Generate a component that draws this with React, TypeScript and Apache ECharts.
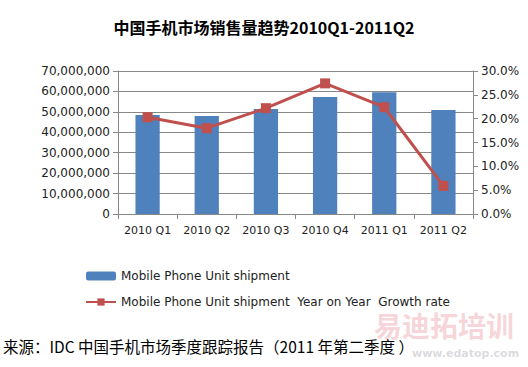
import React, { useEffect, useRef } from "react";
import * as echarts from "echarts";

const categories = ["2010 Q1", "2010 Q2", "2010 Q3", "2010 Q4", "2011 Q1", "2011 Q2"];
const shipments = [48500000, 48000000, 51400000, 57300000, 59600000, 50900000];
const growthRate = [20.3, 18.0, 22.2, 27.4, 22.4, 5.9];
const titleText = "中国手机市场销售量趋势2010Q1-2011Q2";
const sourceText = "来源：IDC 中国手机市场季度跟踪报告（2011 年第二季度 ）";
const barName = "Mobile Phone Unit shipment";
const lineName = "Mobile Phone Unit shipment  Year on Year  Growth rate";

export default function App() {
  const ref = useRef<HTMLDivElement>(null);
  useEffect(() => {
    if (!ref.current) return;
    const chart = echarts.init(ref.current, null, { renderer: "svg" });
    const axisFont = { fontFamily: "DejaVu Sans", fontSize: 12, color: "#222" };
    chart.setOption({
      animation: false,
      backgroundColor: "#fff",
      title: {
        text: titleText,
        left: "center",
        top: 14,
        textStyle: { fontFamily: "Noto Sans CJK SC", fontWeight: "bold", fontSize: 16, color: "#000" },
      },
      legend: {
        orient: "vertical",
        left: 80,
        top: 265,
        itemWidth: 30,
        itemHeight: 9,
        itemGap: 14,
        textStyle: { fontFamily: "DejaVu Sans", fontSize: 12, color: "#222" },
        data: [barName, lineName],
      },
      grid: { left: 118, right: 55, top: 71, bottom: 153 },
      xAxis: {
        type: "category",
        data: categories,
        axisLine: { lineStyle: { color: "#888" } },
        axisTick: { show: true, alignWithLabel: false, length: 5, lineStyle: { color: "#888" } },
        axisLabel: { ...axisFont, fontSize: 11, margin: 11, interval: 0 },
      },
      yAxis: [
        {
          type: "value",
          min: 0,
          max: 70000000,
          interval: 10000000,
          axisLine: { show: true, lineStyle: { color: "#888" } },
          axisTick: { show: true, length: 5, lineStyle: { color: "#888" } },
          splitLine: { lineStyle: { color: "#888" } },
          axisLabel: {
            ...axisFont,
            margin: 8,
            formatter: (v: number) => v.toLocaleString("en-US"),
          },
        },
        {
          type: "value",
          min: 0,
          max: 30,
          interval: 5,
          position: "right",
          axisLine: { show: true, lineStyle: { color: "#888" } },
          axisTick: { show: true, length: 5, lineStyle: { color: "#888" } },
          splitLine: { show: false },
          axisLabel: { ...axisFont, margin: 8, formatter: (v: number) => v.toFixed(1) + "%" },
        },
      ],
      series: [
        {
          name: barName,
          type: "bar",
          data: shipments,
          barWidth: "41%",
          itemStyle: { color: "#4F81BD" },
        },
        {
          name: lineName,
          type: "line",
          yAxisIndex: 1,
          data: growthRate,
          symbol: "rect",
          symbolSize: 10,
          lineStyle: { color: "#C0504D", width: 3 },
          itemStyle: { color: "#C0504D" },
        },
      ],
      graphic: [
        {
          type: "text",
          left: 374,
          top: 311,
          z: 1,
          style: { text: "易迪拓培训", fontFamily: "Noto Sans CJK SC", fontWeight: "bold", fontSize: 28, fill: "rgba(225,110,120,0.3)" },
        },
        {
          type: "text",
          left: 412,
          top: 348,
          z: 1,
          style: { text: "www.edatop.com", fontFamily: "DejaVu Sans", fontWeight: "bold", fontSize: 11, fill: "rgba(150,150,160,0.35)" },
        },
        {
          type: "text",
          left: 3,
          top: 338,
          z: 10,
          style: { text: sourceText, fontFamily: "Noto Sans CJK SC", fontSize: 15.5, fill: "#000" },
        },
      ],
    });
    return () => chart.dispose();
  }, []);
  return <div ref={ref} style={{ width: 528, height: 367, position: "absolute", left: 0, top: 0 }} />;
}
